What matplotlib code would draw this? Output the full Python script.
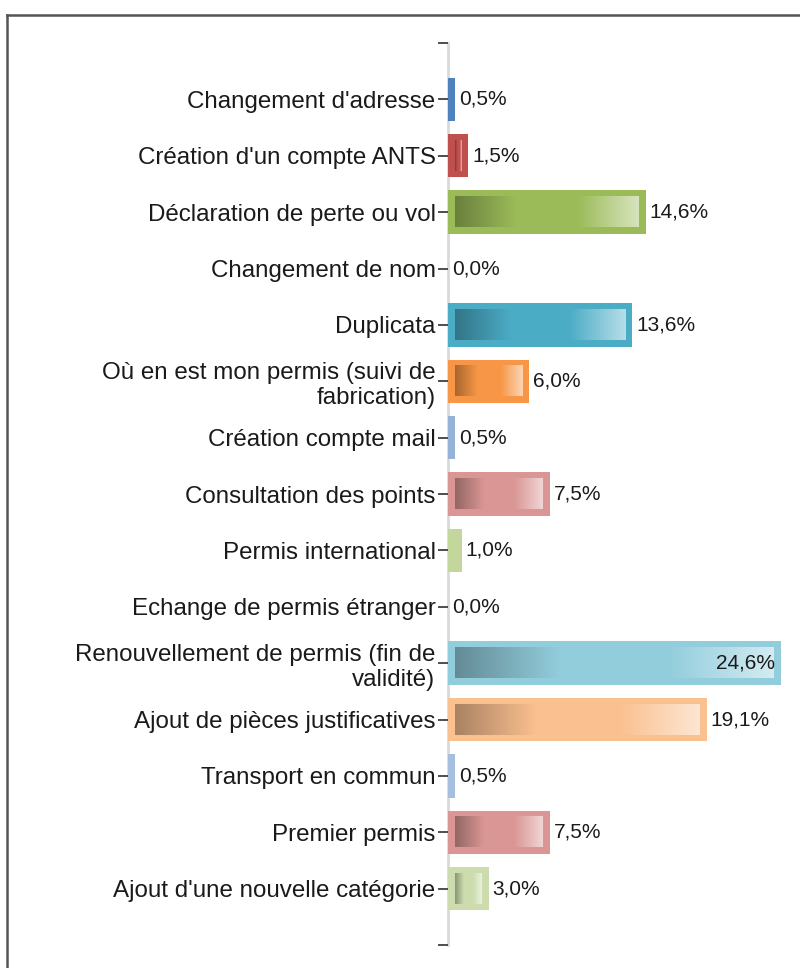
import numpy as np
import matplotlib.pyplot as plt
from matplotlib.colors import to_rgb
from matplotlib.lines import Line2D

categories = [
    "Changement d'adresse",
    "Création d'un compte ANTS",
    "Déclaration de perte ou vol",
    "Changement de nom",
    "Duplicata",
    "Où en est mon permis (suivi de\nfabrication)",
    "Création compte mail",
    "Consultation des points",
    "Permis international",
    "Echange de permis étranger",
    "Renouvellement de permis (fin de\nvalidité)",
    "Ajout de pièces justificatives",
    "Transport en commun",
    "Premier permis",
    "Ajout d'une nouvelle catégorie",
]
values = [0.5, 1.5, 14.6, 0.0, 13.6, 6.0, 0.5, 7.5, 1.0, 0.0, 24.6, 19.1, 0.5, 7.5, 3.0]
value_labels = ["0,5%", "1,5%", "14,6%", "0,0%", "13,6%", "6,0%", "0,5%", "7,5%",
                "1,0%", "0,0%", "24,6%", "19,1%", "0,5%", "7,5%", "3,0%"]
colors = ["#4F81BD", "#C0504D", "#9BBB59", "#8064A2", "#4BACC6", "#F79646",
          "#95B3D7", "#D99694", "#C3D69B", "#B3A2C7", "#92CDDC", "#FAC090",
          "#A7BFDE", "#D99694", "#CCDCAD"]

plt.rcParams['font.family'] = ['Liberation Sans', 'DejaVu Sans']
fs = 17.4

fig = plt.figure(figsize=(8, 9.68), dpi=100)
W, H = 800, 968
ax = fig.add_axes([448 / W, 1 - 945 / H, (781 - 448) / W, 902 / H])

pos = np.arange(1, len(values) + 1)
bar_h = 0.77
xmax = 24.6
ax.barh(pos, values, height=bar_h, color=colors, edgecolor='none', zorder=3)

# inner gradient of each bar
px_x = (781 - 448) / xmax  # pixels per unit
px_y = 902 / 16.0
ix = 7 / px_x
iy = 6.5 / px_y
n = 200
t = np.linspace(0, 1, n)
for p, v, c in zip(pos, values, colors):
    if v - 2 * ix <= 0:
        continue
    base = np.array(to_rgb(c))
    dark = base * 0.68
    light = base + (1 - base) * 0.6
    img = np.zeros((1, n, 3))
    for k, tt in enumerate(t):
        if tt < 0.33:
            f = tt / 0.33
            img[0, k] = dark * (1 - f) + base * f
        elif tt > 0.67:
            f = (tt - 0.67) / 0.33
            img[0, k] = base * (1 - f) + light * f
        else:
            img[0, k] = base
    ax.imshow(img, extent=[ix, v - ix, p + bar_h / 2 - iy, p - bar_h / 2 + iy],
              aspect='auto', interpolation='bilinear', zorder=4)

for p, v, lab in zip(pos, values, value_labels):
    if v > 20:
        ax.text(v - 6 / px_x, p, lab, ha='right', va='center', fontsize=15,
                color='#1a1a1a', zorder=5)
    else:
        ax.text(v + 4 / px_x, p, lab, ha='left', va='center', fontsize=15,
                color='#1a1a1a', zorder=5)

ax.set_xlim(0, xmax)
ax.set_ylim(16, 0)
ax.set_yticks(np.arange(0, 17))
ax.set_yticklabels([''] + categories + [''], fontsize=fs, color='#1a1a1a',
                   linespacing=1.2)
ax.tick_params(axis='y', length=7, width=1.3, color='#404040', pad=2)
ax.set_xticks([])
for s in ['top', 'right', 'bottom']:
    ax.spines[s].set_visible(False)
ax.spines['left'].set_color('#D9D9D9')
ax.spines['left'].set_linewidth(2)
ax.spines['left'].set_zorder(1)
ax.patch.set_alpha(0)

# outer frame
fig.add_artist(Line2D([7 / W, 1.01], [1 - 15 / H, 1 - 15 / H], color='#555555', lw=1.8))
fig.add_artist(Line2D([7 / W, 7 / W], [1 - 15 / H, -0.01], color='#555555', lw=1.8))

fig.savefig('out.png', dpi=100)
